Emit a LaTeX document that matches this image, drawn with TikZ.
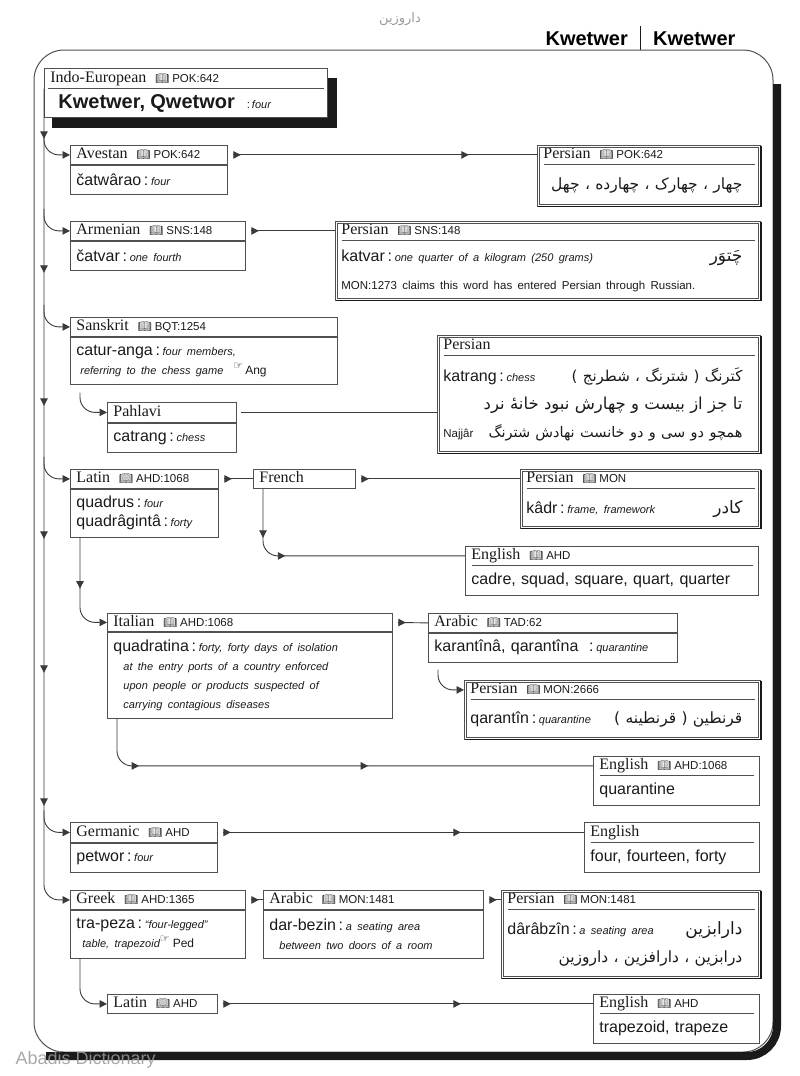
\documentclass[tikz,border=0pt]{standalone}
\usepackage{fontspec}
\setmainfont{Liberation Serif}
\newfontfamily\arialfam{Liberation Sans}
\newfontfamily\persfam[Script=Arabic]{DejaVu Sans}
\newfontfamily\emojifam{Noto Emoji}
\newfontfamily\symfam{DejaVu Sans}
\TeXXeTstate=1
\usetikzlibrary{arrows.meta,positioning,calc,decorations.markings,backgrounds}
\definecolor{ink}{HTML}{1A1A1A}
\definecolor{rimgray}{HTML}{505050}
\definecolor{wiregray}{HTML}{3A3A3A}
\definecolor{markgray}{HTML}{9A9A9A}
\newcommand{\hdrfont}{\rmfamily\fontsize{16}{18}\selectfont}
\newcommand{\lemfont}{\arialfam\fontsize{16}{19}\selectfont}
\newcommand{\glfont}{\arialfam\itshape\fontsize{11}{19}\selectfont}
\newcommand{\srcfont}{\arialfam\fontsize{11.5}{19}\selectfont}
\newcommand{\kwfont}{\arialfam\bfseries\fontsize{20}{22}\selectfont}
\newcommand{\srcref}[1]{\hspace{9pt}{\emojifam\fontsize{11}{11}\selectfont\symbol{"1F4D6}}\hspace{3pt}{\srcfont #1}}
\newcommand{\gloss}[1]{\,:\,{\glfont #1}}
\newcommand{\hand}{\raisebox{5pt}{\symfam\fontsize{11}{11}\selectfont\symbol{"261E}}}
% persian line, optional size, fixed right margin
\newcommand{\fa}[2][15]{{\persfam\fontsize{#1}{28}\selectfont\beginR #2\endR}\kern12pt}
\newcommand{\fasm}[2][15]{\raisebox{0pt}[10pt][3pt]{\persfam\fontsize{#1}{28}\selectfont\beginR #2\endR}\kern12pt}
\tikzset{
  tipx/.tip={Triangle[length=7.5pt,width=7.5pt]},
  rim/.style={draw=rimgray,line width=0.8pt},
  hdrbox/.style={rim,anchor=north west,text width=#1-12pt,inner xsep=6pt,inner ysep=0pt,
                 minimum height=19pt,text height=11.5pt,text depth=3.5pt,align=left,
                 font=\hdrfont,text=ink},
  hdrin/.style={hdrbox=#1,draw=none},
  bodybox/.style={rim,anchor=north west,text width=#1-12pt,inner xsep=6pt,inner ysep=3pt,
                  align=left,font=\lemfont,text=ink},
  bodyin/.style={bodybox=#1,draw=none},
  wire/.style={draw=wiregray,line width=0.9pt},
  wirearr/.style={wire,-tipx},
  hook/.style={wirearr,rounded corners=15pt},
  midarr/.style={postaction={decorate,decoration={markings,
                 mark=at position #1 with {\arrow{tipx}}}}},
  headarr/.style={wire,shorten <=5pt,midarr=#1},
  headarr/.default=13pt,
  trunkmarks/.style={postaction={decorate,decoration={markings,
                     mark=at position 50pt with {\arrow{tipx}},
                     mark=at position 184pt with {\arrow{tipx}},
                     mark=at position 317pt with {\arrow{tipx}},
                     mark=at position 450pt with {\arrow{tipx}},
                     mark=at position 584pt with {\arrow{tipx}},
                     mark=at position 717pt with {\arrow{tipx}}}}}
}
\newcommand{\persframe}[2]{%
  \draw[rim] (#1.north west) rectangle (#2.south east);
  \draw[rim] ([shift={(2.5pt,-2.5pt)}]#1.north west) rectangle ([shift={(-2.5pt,2.5pt)}]#2.south east);
  \draw[ink,line width=1.6pt] ([yshift=-1pt]#1.north east) -- (#2.south east) -- ([xshift=1pt]#2.south west);
  \draw[rim] ([xshift=7pt]#1.south west) -- ([xshift=-6pt]#1.south east);}
\newcommand{\engframe}[2]{%
  \draw[rim] (#1.north west) rectangle (#2.south east);
  \draw[rim] ([xshift=7pt]#1.south west) -- ([xshift=-6pt]#1.south east);}

\begin{document}
\begin{tikzpicture}[x=1pt,y=-1pt]
  \useasboundingbox (0,0) rectangle (800,1076);
  % ---- page head and frame ----
  \node[font=\persfam\fontsize{13}{13}\selectfont,text=markgray] (pagetag) at (400,19) {\beginR داروزین\endR};
  \node[font=\kwfont,anchor=base east,inner sep=0pt] (runl) at (628,45) {Kwetwer};
  \node[font=\kwfont,anchor=base west,inner sep=0pt] (runr) at (653,45) {Kwetwer};
  \draw[ink,line width=1pt] (640,26) -- (640,50);
  \draw[rim,line width=1pt,rounded corners=30pt] (34,50) rectangle (773,1052);
  \draw[ink,line width=8pt,rounded corners=30pt] (777,84) -- (777,1056) -- (46,1056);

  % ---- root ----
  \node[hdrin=283pt,minimum height=20pt] (ie) at (44,68) {Indo-European\srcref{POK:642}};
  \node[bodyin=283pt,minimum height=28pt,below right=0pt of ie.south west] (ieb)
    {\hspace*{8pt}{\kwfont Kwetwer, Qwetwor}\hspace{12pt}{\srcfont:\,}{\glfont four}};
  \begin{scope}[on background layer]
    \fill[ink] ([shift={(8pt,-10pt)}]ie.north west) rectangle ([shift={(9pt,-10pt)}]ieb.south east);
    \draw[rim,fill=white] (ie.north west) rectangle (ieb.south east);
  \end{scope}
  \draw[rim] ([xshift=4pt]ie.south west) -- ([xshift=-4pt]ie.south east);

  % ---- Avestan ----
  \node[hdrbox=157pt] (ave) at (70,145) {Avestan\srcref{POK:642}};
  \node[bodybox=157pt,minimum height=29pt,below right=0pt of ave.south west] (aveb) {čatwârao\gloss{four}};
  \node[hdrin=223pt] (per1) at (537,145) {Persian\srcref{POK:642}};
  \node[bodyin=223pt,minimum height=41pt,below right=0pt of per1.south west] (per1b)
    {\hfill\fa[15.5]{چهار ، چهارک ، چهارده ، چهل}};
  \persframe{per1}{per1b}

  % ---- Armenian ----
  \node[hdrbox=175pt] (arm) at (70,221) {Armenian\srcref{SNS:148}};
  \node[bodybox=175pt,minimum height=29pt,below right=0pt of arm.south west] (armb) {čatvar\gloss{one fourth}};
  \node[hdrin=425pt] (per2) at (335,221) {Persian\srcref{SNS:148}};
  \node[bodyin=425pt,minimum height=59pt,below right=0pt of per2.south west] (per2b)
    {katvar\gloss{one quarter of a kilogram (250 grams)}\hfill\fasm[17]{چَتوَر}\\[9pt]
     {\srcfont MON:1273 claims this word has entered Persian through Russian.}};
  \persframe{per2}{per2b}

  % ---- Sanskrit, Pahlavi ----
  \node[hdrbox=267pt] (skt) at (70,317) {Sanskrit\srcref{BQT:1254}};
  \node[bodybox=267pt,minimum height=47pt,below right=0pt of skt.south west] (sktb)
    {catur-anga\gloss{four members,}\\
     \hspace*{4pt}{\glfont referring to the chess game}\hspace{10pt}\hand\hspace{2pt}{\arialfam\fontsize{12}{19}\selectfont Ang}};
  \node[hdrbox=129pt,minimum height=20pt] (pah) at (107,402) {Pahlavi};
  \node[bodybox=129pt,minimum height=29pt,below right=0pt of pah.south west] (pahb) {catrang\gloss{chess}};
  \node[hdrin=323pt,minimum height=20pt] (per3) at (437,335) {Persian};
  \node[bodyin=323pt,minimum height=97pt,below right=0pt of per3.south west] (per3b)
    {katrang\gloss{chess}\hfill\fasm[15]{کَترنگ ( شترنگ ، شطرنج )}\\[9pt]
     \hfill\fasm[16.5]{تا جز از بیست و چهارش نبود خانهٔ نرد}\\[9pt]
     {\srcfont Najjâr}\hfill\fasm[14.5]{همچو دو سی و دو خانست نهادش شترنگ}};
  \persframe{per3}{per3b}

  % ---- Latin, French ----
  \node[hdrbox=148pt] (lat) at (70,469) {Latin\srcref{AHD:1068}};
  \node[bodybox=148pt,minimum height=48pt,below right=0pt of lat.south west] (latb)
    {quadrus\gloss{four}\\quadrâgintâ\gloss{forty}};
  \node[hdrbox=102pt] (fre) at (253,469) {French};
  \node[hdrin=240pt] (per4) at (520,469) {Persian\srcref{MON}};
  \node[bodyin=240pt,minimum height=39pt,below right=0pt of per4.south west] (per4b)
    {kâdr\gloss{frame, framework}\hfill\fa[17]{کادر}};
  \persframe{per4}{per4b}
  \node[hdrin=293pt] (eng1) at (465,546) {English\srcref{AHD}};
  \node[bodyin=293pt,minimum height=29pt,below right=0pt of eng1.south west] (eng1b)
    {cadre, squad, square, quart, quarter};
  \engframe{eng1}{eng1b}

  % ---- Italian, Arabic ----
  \node[hdrbox=285pt,minimum height=18pt] (ita) at (107,613) {Italian\srcref{AHD:1068}};
  \node[bodybox=285pt,minimum height=86pt,below right=0pt of ita.south west] (itab)
    {quadratina\gloss{forty, forty days of isolation}\\
     \hspace*{10pt}{\glfont at the entry ports of a country enforced}\\
     \hspace*{10pt}{\glfont upon people or products suspected of}\\
     \hspace*{10pt}{\glfont carrying contagious diseases}};
  \node[hdrbox=249pt] (ara1) at (428,613) {Arabic\srcref{TAD:62}};
  \node[bodybox=249pt,minimum height=29pt,below right=0pt of ara1.south west] (ara1b)
    {karantînâ, qarantîna\hspace{8pt}\gloss{quarantine}};
  \node[hdrin=296pt] (per5) at (464,680) {Persian\srcref{MON:2666}};
  \node[bodyin=296pt,minimum height=39pt,below right=0pt of per5.south west] (per5b)
    {qarantîn\gloss{quarantine}\hfill\fa[15.5]{قرنطین ( قرنطینه )}};
  \persframe{per5}{per5b}
  \node[hdrin=166pt] (eng2) at (593,756) {English\srcref{AHD:1068}};
  \node[bodyin=166pt,minimum height=29pt,below right=0pt of eng2.south west] (eng2b) {quarantine};
  \engframe{eng2}{eng2b}

  % ---- Germanic ----
  \node[hdrbox=147pt,minimum height=20pt] (ger) at (70,822) {Germanic\srcref{AHD}};
  \node[bodybox=147pt,minimum height=29pt,below right=0pt of ger.south west] (gerb) {petwor\gloss{four}};
  \node[hdrin=175pt,minimum height=20pt] (eng3) at (584,822) {English};
  \node[bodyin=175pt,minimum height=29pt,below right=0pt of eng3.south west] (eng3b) {four, fourteen, forty};
  \engframe{eng3}{eng3b}

  % ---- Greek, Arabic, Latin ----
  \node[hdrbox=175pt] (grk) at (70,890) {Greek\srcref{AHD:1365}};
  \node[bodybox=175pt,minimum height=48pt,below right=0pt of grk.south west] (grkb)
    {tra-peza\gloss{“four-legged”}\\
     \hspace*{6pt}{\glfont table, trapezoid}\hand\hspace{3pt}{\arialfam\fontsize{12}{19}\selectfont Ped}};
  \node[hdrbox=220pt] (ara2) at (263,890) {Arabic\srcref{MON:1481}};
  \node[bodybox=220pt,minimum height=48pt,below right=0pt of ara2.south west] (ara2b)
    {dar-bezin\gloss{a seating area}\\ \hspace*{10pt}{\glfont between two doors of a room}};
  \node[hdrin=259pt] (per6) at (501,890) {Persian\srcref{MON:1481}};
  \node[bodyin=259pt,minimum height=68pt,below right=0pt of per6.south west] (per6b)
    {dârâbzîn\gloss{a seating area}\hfill\fasm[17]{دارابزین}\\[9pt]
     \hfill\fasm[15.5]{درابزین ، دارافزین ، داروزین}};
  \persframe{per6}{per6b}
  \node[hdrbox=110pt] (lat2) at (107,994) {Latin\srcref{AHD}};
  \node[hdrin=166pt] (eng4) at (593,994) {English\srcref{AHD}};
  \node[bodyin=166pt,minimum height=29pt,below right=0pt of eng4.south west] (eng4b) {trapezoid, trapeze};
  \engframe{eng4}{eng4b}

  % ---- trunk and hooks ----
  \draw[hook,trunkmarks] (ie.south west) |- (grk.west);
  \foreach \lng in {ave,arm,skt,lat,ger}
    \draw[hook] ($(\lng.west -| ie.south west)+(0,-22)$) |- (\lng.west);
  \draw[hook] ($(sktb.south west)+(10,8)$) |- (pah.west);
  \draw[hook,midarr=51pt] ($(latb.south west)+(10,0)$) |- (ita.west);
  \draw[hook] ($(ara1b.south west)+(10,7)$) |- (per5.west);
  \draw[hook] ($(grkb.south west)+(10,0)$) |- (lat2.west);
  \draw[wire,rounded corners=15pt,midarr=49pt,midarr=83pt] ($(fre.south west)+(10,0)$) |- (eng1.west);
  \draw[wire,rounded corners=15pt,midarr=63pt,midarr=292pt] ($(itab.south west)+(10,0)$) |- (eng2.west);

  % ---- links to the right ----
  \draw[headarr,midarr=241pt] (ave.east) -- (ave.east -| per1.west);
  \draw[headarr] (arm.east) -- (arm.east -| per2.west);
  \draw[wire,shorten <=4pt] (pah.east) -- (pah.east -| per3.west);
  \draw[headarr] (lat.east) -- (fre.west);
  \draw[headarr] (fre.east) -- (fre.east -| per4.west);
  \draw[headarr] (ita.east) -- (ara1.west);
  \draw[headarr,midarr=243pt] (ger.east) -- (eng3.west);
  \draw[headarr] (grk.east) -- (ara2.west);
  \draw[headarr] (ara2.east) -- (per6.west);
  \draw[headarr,midarr=243pt] (lat2.east) -- (eng4.west);

  \node[font=\arialfam\fontsize{18}{18}\selectfont,text=markgray,opacity=0.85,anchor=base west] (mark) at (12,1064) {Abadis Dictionary};
\end{tikzpicture}
\end{document}
